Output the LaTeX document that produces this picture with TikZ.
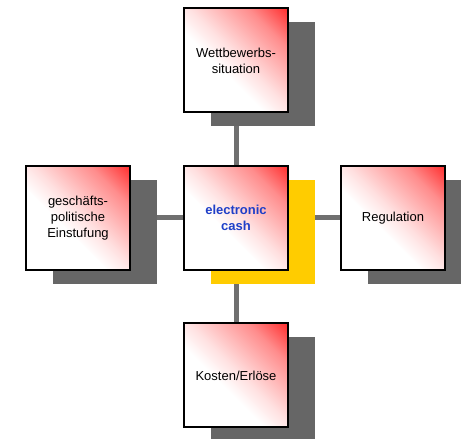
\documentclass[tikz,border=0pt]{standalone}
\usepackage{fontspec}
\setmainfont{Liberation Sans}
\usepackage{xcolor}
\usepackage{tikz}
\usetikzlibrary{shadows,backgrounds}

\definecolor{shadowgray}{HTML}{666666}
\definecolor{linkgray}{HTML}{707070}
\definecolor{cashblue}{HTML}{1F3FC8}
\definecolor{cashyellow}{HTML}{FFCC00}
\pgfdeclarehorizontalshading{redcorner}{100bp}{color(0bp)=(white); color(42bp)=(white); color(52bp)=(red!12); color(72bp)=(red!45); color(92bp)=(red); color(100bp)=(red)}

\begin{document}
\begin{tikzpicture}[x=1pt, y=1pt,
    box/.style={rectangle, draw=black, line width=2pt, minimum size=104pt, inner sep=0pt,
        align=center, shade, shading=redcorner, shading angle=45, font=\fontsize{13}{16}\selectfont},
    topic/.style={box, drop shadow={shadow xshift=27pt, shadow yshift=-14pt, fill=shadowgray, opacity=1}},
    core/.style={box, text=cashblue, font=\fontsize{13}{16}\selectfont\bfseries,
        drop shadow={shadow xshift=27pt, shadow yshift=-14pt, fill=cashyellow, opacity=1}},
    link/.style={draw=linkgray, line width=5pt}]
    \useasboundingbox (0,0) rectangle (461,439);

    \node[core] (cash) at (236,221) {electronic\\cash};
    \node[topic] (wettbewerb) at (236,378.5) {Wettbewerbs-\\situation};
    \node[topic] (politik) at (78,221) {geschäfts-\\politische\\Einstufung};
    \node[topic] (regulation) at (393,221) {Regulation};
    \node[topic] (kosten) at (236,63.5) {Kosten/Erlöse};

    % connectors behind the boxes and shadows
    \begin{scope}[on background layer]
        \draw[link] (cash.center) -- (wettbewerb.center);
        \draw[link] (cash.center) -- (politik.center);
        \draw[link] (cash.center) -- (regulation.center);
        \draw[link] (cash.center) -- (kosten.center);
    \end{scope}
\end{tikzpicture}
\end{document}
